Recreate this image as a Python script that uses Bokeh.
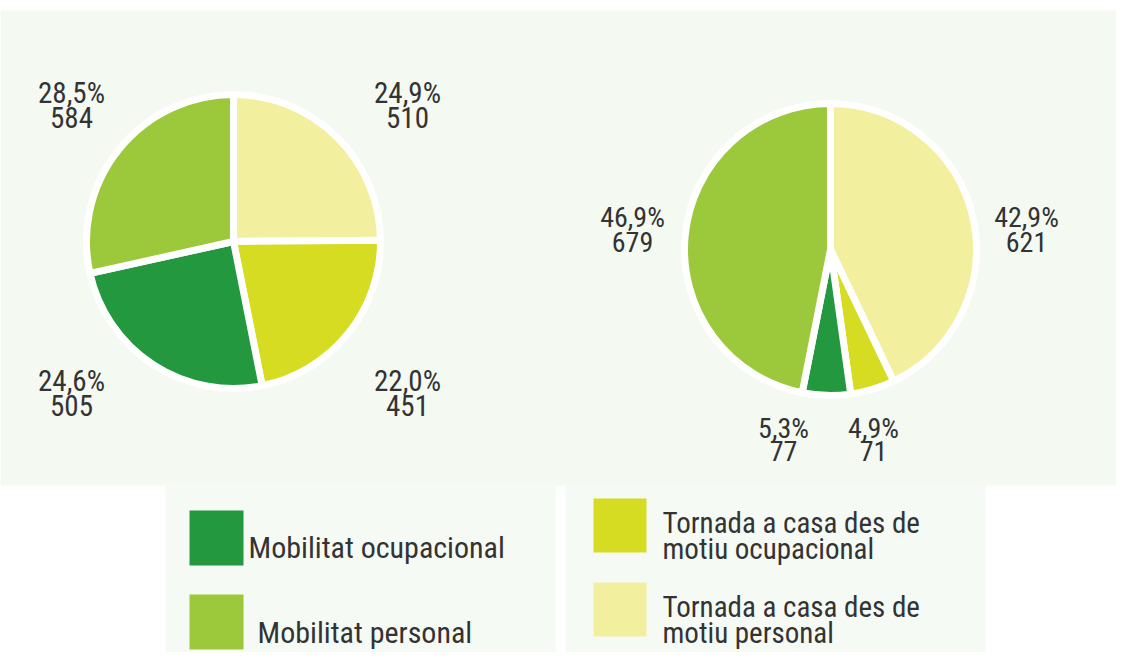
import math
from bokeh.plotting import figure
from bokeh.models import Range1d
from bokeh.core.properties import value
from bokeh.embed import file_html
from bokeh.resources import INLINE

# ---------------- data ----------------
categories = ["Mobilitat ocupacional", "Mobilitat personal",
              "Tornada a casa des de motiu ocupacional", "Tornada a casa des de motiu personal"]
legend_lines = [["Mobilitat ocupacional"], ["Mobilitat personal"],
                ["Tornada a casa des de", "motiu ocupacional"],
                ["Tornada a casa des de", "motiu personal"]]
colors = ["#23983f", "#9cc83b", "#d5dc21", "#f2f09f"]

left_counts = [505, 584, 451, 510]
left_pcts = ["24,6%", "28,5%", "22,0%", "24,9%"]
right_counts = [77, 679, 71, 621]
right_pcts = ["5,3%", "46,9%", "4,9%", "42,9%"]

# clockwise order of slices starting at 12 o'clock
slice_order = [3, 2, 0, 1]

# ---------------- layout ----------------
W, H = 1116, 652
def sx(X):  # picture x -> data x
    return X
def sy(Y):  # picture y (from top) -> data y
    return H - Y

FONT = "Roboto Condensed"
TXT = "#333333"

p = figure(width=W, height=H, output_backend="svg", toolbar_location=None,
           x_range=Range1d(0, W), y_range=Range1d(0, H), min_border=0)
p.axis.visible = False
p.grid.visible = False
p.outline_line_color = None
p.background_fill_color = "white"
p.border_fill_color = "white"

# background panels
p.quad(left=[0], right=[W], bottom=[sy(485)], top=[sy(10)], fill_color="#f4f9f2", line_color=None)
p.quad(left=[sx(165)], right=[sx(555)], bottom=[0], top=[sy(482)], fill_color="#f6faf5", line_color=None)
p.quad(left=[sx(565)], right=[sx(985)], bottom=[0], top=[sy(484)], fill_color="#f6faf5", line_color=None)


def draw_pie(counts, pcts, cx, cy, r, label_pos):
    total = float(sum(counts))
    cum = 0.0
    xs, ys, st, en, fc = [], [], [], [], []
    for i in slice_order:
        frac = counts[i] / total
        st.append(math.pi / 2 - 2 * math.pi * cum)
        cum += frac
        en.append(math.pi / 2 - 2 * math.pi * cum)
        xs.append(sx(cx)); ys.append(sy(cy)); fc.append(colors[i])
    p.wedge(x=xs, y=ys, radius=r, start_angle=st, end_angle=en, direction="clock",
            fill_color=fc, line_color="white", line_width=7)
    for i, (lx, b1, b2, fs) in label_pos.items():
        p.text(x=[sx(lx)], y=[sy(b1)], text=[pcts[i]], text_font=value(FONT),
               text_font_size=f"{fs}px", text_align="center", text_baseline="alphabetic",
               text_color=TXT)
        p.text(x=[sx(lx)], y=[sy(b2)], text=[str(counts[i])], text_font=value(FONT),
               text_font_size=f"{fs}px", text_align="center", text_baseline="alphabetic",
               text_color=TXT)


draw_pie(left_counts, left_pcts, 233, 241, 147,
         {1: (71, 92, 117, 29), 3: (407, 92, 117, 29),
          0: (71, 380, 405, 29), 2: (407, 380, 405, 29)})
draw_pie(right_counts, right_pcts, 830, 249, 146,
         {1: (632, 217, 241, 28), 3: (1026, 217, 241, 28),
          0: (783, 428, 450, 28), 2: (873, 428, 450, 28)})

# legend (moved up slightly so that it fits inside the figure)
swatches = {0: (189, 510, 55), 1: (189, 594, 55), 2: (593, 498, 54), 3: (593, 582, 54)}
text_pos = {0: (248, [547], 30), 1: (257, [632], 30),
            2: (662, [522, 548], 29), 3: (662, [606, 632], 29)}
for i in range(4):
    X, Y, s = swatches[i]
    p.quad(left=[sx(X)], right=[sx(X + s - 1)], top=[sy(Y)], bottom=[sy(Y + s)],
           fill_color=colors[i], line_color=None)
    tx, baselines, fs = text_pos[i]
    for line, b in zip(legend_lines[i], baselines):
        p.text(x=[sx(tx)], y=[sy(b)], text=[line], text_font=value(FONT),
               text_font_size=f"{fs}px", text_align="left", text_baseline="alphabetic",
               text_color=TXT)

open("out.html", "w").write(file_html(p, INLINE))
